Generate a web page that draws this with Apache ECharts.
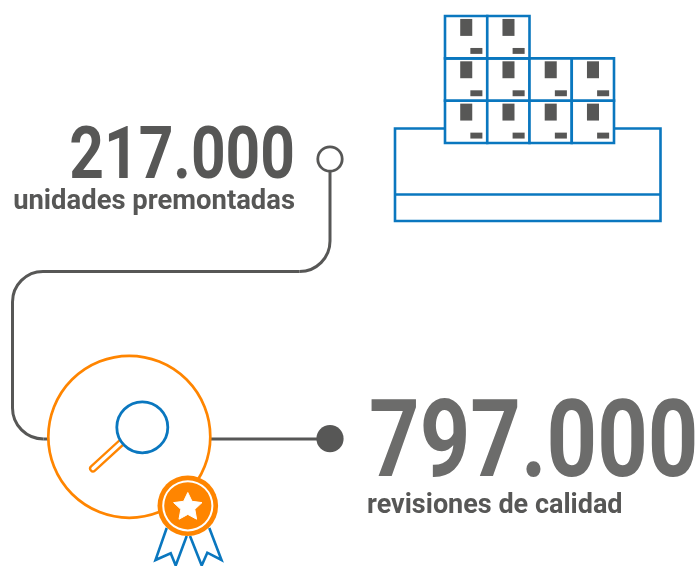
<!DOCTYPE html>
<html>
<head>
<meta charset="utf-8">
<style>
  html, body { margin: 0; padding: 0; background: #fff; }
  #chart { width: 697px; height: 566px; }
</style>
<script src="https://cdn.jsdelivr.net/npm/echarts@6/dist/echarts.min.js"></script>
</head>
<body>
<div id="chart"></div>
<script>
// datos
var statValues = [217000, 797000];
var statLabels = ['unidades premontadas', 'revisiones de calidad'];
// cajas por fila, de abajo arriba
var boxesPerRow = [4, 4, 2];

var GREY = '#575756';
var GREY_LIGHT = '#6c6c6b';
var BLUE = '#0a77bf';
var ORANGE = '#ff8500';

function formatValue(v) {
  return String(v).replace(/\B(?=(\d{3})+$)/g, '.');
}

var boxData = [];
boxesPerRow.forEach(function (count, row) {
  for (var col = 0; col < count; col++) {
    boxData.push([col, row]);
  }
});

function renderBox(params, api) {
  var p = api.coord([api.value(0), api.value(1) + 1]);
  var size = api.size([1, 1]);
  var w = size[0], h = size[1];
  return {
    type: 'group',
    children: [
      { type: 'rect', shape: { x: p[0], y: p[1], width: w, height: h },
        style: { fill: '#fff', stroke: BLUE, lineWidth: 2.6 } },
      { type: 'rect', shape: { x: p[0] + w * 0.36, y: p[1] + h * 0.07, width: w * 0.285, height: h * 0.4 },
        style: { fill: GREY } },
      { type: 'rect', shape: { x: p[0] + w * 0.6, y: p[1] + h * 0.755, width: w * 0.285, height: h * 0.14 },
        style: { fill: GREY } }
    ]
  };
}

function line(points, color, width, z) {
  return { type: 'polyline', z: z || 1, shape: { points: points },
    style: { fill: null, stroke: color, lineWidth: width, lineJoin: 'miter', lineCap: 'butt' } };
}

function arc(cx, cy, r, start, end, clockwise) {
  return { type: 'arc', z: 1, shape: { cx: cx, cy: cy, r: r, startAngle: start, endAngle: end, clockwise: clockwise },
    style: { fill: null, stroke: GREY, lineWidth: 3 } };
}

function circle(cx, cy, r, fill, stroke, width, z) {
  return { type: 'circle', z: z || 2, shape: { cx: cx, cy: cy, r: r },
    style: { fill: fill, stroke: stroke, lineWidth: width } };
}

function label(text, x, y, size, weight, color, align, scaleX) {
  return { type: 'text', x: x, y: y, scaleX: scaleX, z: 5,
    style: { text: text, align: align, verticalAlign: 'middle', fill: color,
      fontFamily: 'Roboto', fontSize: size, fontWeight: weight } };
}

var graphics = [
  // palet
  { type: 'rect', z: 0, shape: { x: 395, y: 128.5, width: 265.5, height: 92.5 },
    style: { fill: '#fff', stroke: BLUE, lineWidth: 2.6 } },
  line([[395, 194.5], [661, 194.5]], BLUE, 2.6, 0),

  // conector
  line([[330, 171], [330, 241]], GREY, 3),
  arc(299.5, 241, 30.5, 0, Math.PI / 2, true),
  line([[299.5, 271.5], [43, 271.5]], GREY, 3),
  arc(43, 302, 30.5, -Math.PI / 2, Math.PI, false),
  line([[12.5, 302], [12.5, 408]], GREY, 3),
  arc(43.5, 408, 31, Math.PI, Math.PI / 2, false),
  line([[43.5, 439], [50, 439]], GREY, 3),
  line([[211, 439], [330, 439]], GREY, 3),
  circle(330, 159, 12.2, '#fff', GREY, 2.8),
  circle(330, 438.7, 13.6, GREY, null, 0),

  // lupa
  circle(129.3, 436.8, 81, '#fff', ORANGE, 2.7, 2),
  { type: 'polyline', z: 3, shape: { points: [[122, 442], [93, 468.5]] },
    style: { fill: null, stroke: ORANGE, lineWidth: 8, lineCap: 'round' } },
  { type: 'polyline', z: 3, shape: { points: [[124, 440], [93, 468.5]] },
    style: { fill: null, stroke: '#fff', lineWidth: 3.4, lineCap: 'round' } },
  circle(142.3, 427.3, 25.5, '#fff', BLUE, 2.8, 4),

  // distintivo
  line([[166.7, 528], [155.5, 560], [170.7, 553.3], [175.7, 565.5], [186.7, 536]], BLUE, 2.6, 3),
  line([[190, 536], [201.7, 565.5], [207.3, 552.7], [221.5, 560], [209.3, 528]], BLUE, 2.6, 3),
  circle(187.8, 505.8, 30.3, ORANGE, null, 0, 4),
  circle(187.8, 505.8, 25.6, '#fff', null, 0, 4),
  circle(187.8, 505.8, 23.6, ORANGE, null, 0, 4),
  { type: 'polygon', z: 5, shape: { points: [[187.8, 492.5], [192, 501.3], [202, 502.6], [194.8, 509.3], [196.6, 519.2], [187.8, 514.4], [179, 519.2], [180.8, 509.3], [173.6, 502.6], [183.6, 501.3]] },
    style: { fill: '#fff', stroke: '#fff', lineWidth: 1, lineJoin: 'round' } },

  // textos
  label(formatValue(statValues[0]), 295, 160, 72, 700, GREY, 'right', 0.84),
  label(statLabels[0], 295, 202, 27, 700, GREY, 'right', 1.015),
  label(formatValue(statValues[1]), 698.5, 449.5, 107, 700, GREY_LIGHT, 'right', 0.825),
  label(statLabels[1], 367, 506, 27, 700, GREY, 'left', 1.0)
];

var option = {
  animation: false,
  backgroundColor: '#fff',
  grid: { left: 445, top: 16, width: 169, height: 127 },
  xAxis: { type: 'value', min: 0, max: 4, show: false },
  yAxis: { type: 'value', min: 0, max: 3, show: false },
  graphic: graphics,
  series: [{
    type: 'custom',
    z: 3,
    data: boxData,
    renderItem: renderBox
  }]
};

var myChart = echarts.init(document.getElementById('chart'), null, { renderer: 'canvas', width: 697, height: 566 });
myChart.setOption(option);
</script>
</body>
</html>
